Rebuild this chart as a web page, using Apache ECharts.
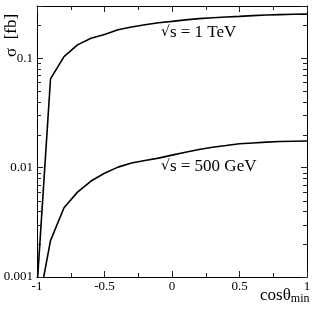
<!DOCTYPE html>
<html>
<head>
<meta charset="utf-8">
<script src="https://cdn.jsdelivr.net/npm/echarts@6/dist/echarts.min.js"></script>
<style>html,body{margin:0;padding:0;background:#fff}#c{width:316px;height:314px}</style>
</head>
<body>
<div id="c"></div>
<script>
const cosMin = [-1,-0.9,-0.8,-0.7,-0.6,-0.5,-0.4,-0.3,-0.2,-0.1,0,0.1,0.2,0.3,0.4,0.5,0.6,0.7,0.8,0.9,1];
const sigma1TeV = [0.0008,0.0646,0.1035,0.1324,0.152,0.165,0.182,0.193,0.202,0.211,0.217,0.224,0.230,0.234,0.238,0.241,0.245,0.248,0.250,0.252,0.253];
const sigma500GeV = [0.00047,0.00215,0.0043,0.00597,0.00754,0.00887,0.0101,0.0110,0.0116,0.0122,0.0130,0.0138,0.01462,0.01535,0.0159,0.0165,0.0168,0.0171,0.0173,0.0174,0.0175];
const xTicks = {min: -1, max: 1, interval: 0.5};
const yRange = {min: 0.001, max: 0.3};
const yMinorTicks = [0.002,0.003,0.004,0.005,0.006,0.007,0.008,0.009,0.02,0.03,0.04,0.05,0.06,0.07,0.08,0.09,0.2,0.3];
const label1 = ['√', 's = 1 TeV'];
const label2 = ['√', 's = 500 GeV'];

const FONT = 'Liberation Serif';
const chart = echarts.init(document.getElementById('c'), null, {renderer: 'canvas'});
const lineStyle = {color: '#000', width: 1};
const tickStyle = {color: '#222', width: 1};
const yFmt = v => { const l = Math.log10(v); return Math.abs(l - Math.round(l)) < 1e-6 ? String(+v.toPrecision(1)) : ''; };
const xAxisBase = {
  type: 'value', min: xTicks.min, max: xTicks.max, interval: xTicks.interval,
  axisLine: {show: true, onZero: false, lineStyle},
  axisTick: {show: true, inside: true, length: 6, lineStyle: tickStyle},
  minorTick: {show: true, splitNumber: 2, length: 4, lineStyle: tickStyle},
  splitLine: {show: false}
};
const yAxisBase = {
  type: 'log', logBase: 10, min: yRange.min, max: yRange.max,
  axisLine: {show: true, onZero: false, lineStyle},
  axisTick: {show: true, inside: true, length: 6, lineStyle: tickStyle},
  splitLine: {show: false}
};
const mk = (name, data) => ({
  name, type: 'line', data: cosMin.map((x, i) => [x, data[i]]),
  showSymbol: false, symbol: 'none', smooth: false,
  lineStyle: {color: '#000', width: 1.6}, silent: true, animation: false
});
const annot = (parts, left, top) => ({
  type: 'text', left, top, style: {
    text: '{r|' + parts[0] + '}{t|' + parts[1] + '}', fill: '#000',
    rich: {r: {fontFamily: 'DejaVu Serif', fontSize: 14, color: '#000'}, t: {fontFamily: FONT, fontSize: 17, color: '#000'}}
  }
});
chart.setOption({
  animation: false,
  grid: {left: 37, top: 6, right: 9, bottom: 37},
  xAxis: [
    Object.assign({}, xAxisBase, {position: 'bottom',
      axisLabel: {show: true, color: '#000', fontFamily: FONT, fontSize: 13, margin: 3}}),
    Object.assign({}, xAxisBase, {position: 'top', axisLabel: {show: false}})
  ],
  yAxis: [
    Object.assign({}, yAxisBase, {position: 'left',
      axisLabel: {show: true, color: '#000', fontFamily: FONT, fontSize: 13, margin: 4, formatter: yFmt}}),
    Object.assign({}, yAxisBase, {position: 'right', axisLabel: {show: false}})
  ],
  series: [
    mk('1 TeV', sigma1TeV),
    mk('500 GeV', sigma500GeV),
    {
      type: 'custom', silent: true, clip: false,
      data: yMinorTicks.map(v => [xTicks.min, v]),
      renderItem: (params, api) => {
        const v = api.value(1);
        const a = api.coord([xTicks.min, v]);
        const b = api.coord([xTicks.max, v]);
        const y = Math.round(a[1]) + 0.5;
        return {type: 'group', children: [
          {type: 'line', shape: {x1: a[0], y1: y, x2: a[0] + 4, y2: y}, style: {stroke: '#222', lineWidth: 1}},
          {type: 'line', shape: {x1: b[0], y1: y, x2: b[0] - 4, y2: y}, style: {stroke: '#222', lineWidth: 1}}
        ]};
      }
    }
  ],
  graphic: [
    annot(label1, 161, 24),
    annot(label2, 161, 158),
    {type: 'text', x: 11.5, y: 57, rotation: Math.PI / 2,
      style: {text: 'σ  [fb]', font: '17px "' + FONT + '"', fill: '#000', textAlign: 'left', textVerticalAlign: 'middle'}},
    {type: 'text', left: 260, top: 287, style: {
      text: '{a|cosθ}{b|min}', fill: '#000',
      rich: {a: {fontFamily: FONT, fontSize: 17, color: '#000'}, b: {fontFamily: FONT, fontSize: 12, color: '#000', padding: [7, 0, 0, 0]}}
    }}
  ]
});
</script>
</body>
</html>
